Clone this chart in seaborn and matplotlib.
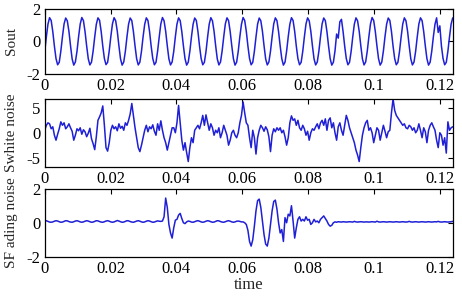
import numpy as np
import matplotlib
matplotlib.use('Agg')
import matplotlib.pyplot as plt
import seaborn as sns

# sampling rate of the three traces (Hz)
FS = 2040

# clean sine output
sout = [
    -0.62, 0.27, 1.05, 1.45, 1.28, 0.60, -0.29, -1.05, -1.43, -1.28,
    -0.59, 0.29, 1.07, 1.43, 1.26, 0.62, -0.27, -1.07, -1.45, -1.26,
    -0.61, 0.28, 1.06, 1.46, 1.27, 0.60, -0.28, -1.06, -1.44, -1.27,
    -0.60, 0.27, 1.05, 1.44, 1.29, 0.61, -0.29, -1.05, -1.42, -1.28,
    -0.58, 0.30, 1.07, 1.45, 1.26, 0.62, -0.27, -1.07, -1.45, -1.26,
    -0.61, 0.28, 1.06, 1.43, 1.27, 0.60, -0.28, -1.06, -1.44, -1.27,
    -0.60, 0.29, 1.05, 1.44, 1.28, 0.61, -0.29, -1.05, -1.43, -1.28,
    -0.59, 0.27, 1.07, 1.46, 1.26, 0.62, -0.27, -1.07, -1.44, -1.26,
    -0.61, 0.28, 1.06, 1.44, 1.27, 0.60, -0.28, -1.06, -1.45, -1.27,
    -0.60, 0.29, 1.05, 1.43, 1.28, 0.61, -0.29, -1.05, -1.43, -1.28,
    -0.62, 0.27, 1.06, 1.45, 1.26, 0.62, -0.27, -1.07, -1.44, -1.26,
    -0.59, 0.28, 1.07, 1.44, 1.27, 0.60, -0.28, -1.06, -1.45, -1.27,
    -0.60, 0.29, 1.05, 1.46, 1.28, 0.61, -0.29, -1.05, -1.43, -1.28,
    -0.61, 0.27, 1.06, 1.43, 1.26, 0.62, -0.27, -1.07, -1.44, -1.26,
    -0.60, 0.28, 1.07, 1.44, 1.27, 0.60, -0.28, -1.06, -1.45, -1.27,
    -0.59, 0.29, 1.05, 1.45, 1.28, 0.61, -0.29, -1.05, -1.43, -1.28,
    -0.61, 0.27, 1.06, 1.44, 1.26, 0.62, -0.27, -1.07, -1.44, -1.26,
    -0.60, 0.28, 1.07, 1.43, 1.27, 0.60, -0.28, -1.06, -1.45, -1.27,
    -0.58, 0.45, 0.20, 1.20, 1.35, 0.61, -0.29, -1.05, -1.43, -1.28,
    -0.61, 0.27, 1.06, 1.44, 1.26, 0.62, -0.27, -1.07, -1.44, -1.26,
    -0.60, 0.28, 1.07, 1.46, 1.27, 0.60, -0.28, -1.06, -1.45, -1.27,
    -0.59, 0.29, 1.05, 1.43, 1.28, 0.61, -0.29, -1.05, -1.43, -1.28,
    -0.61, 0.27, 1.06, 1.44, 1.26, 0.62, -0.27, -1.07, -1.44, -1.26,
    -0.60, 0.28, 1.07, 1.44, 1.27, 0.60, -0.28, -1.06, -1.45, -1.27,
    -0.59, 0.29, 1.05, 1.44, 0.55, 0.95, -0.29, -1.05, -1.43, -1.28,
    -0.60, 0.28, 1.06, 1.44,
]

# filtered white noise
swhite = [
    0.5, 1.5, 2.0, 1.8, 0.8, 1.2, -0.5, -1.5, -0.3, 0.8,
    2.2, 1.5, 2.0, 0.8, 1.2, 1.8, 1.0, 0.3, -1.5, -0.5,
    0.8, 0.4, 1.0, -0.3, 0.6, 0.2, -0.8, -0.1, 0.9, -1.2,
    -2.2, -3.4, -0.8, 2.5, 3.2, 4.0, 5.4, 1.5, -3.0, -3.7,
    -2.0, 0.5, 1.5, 0.8, 1.2, 0.4, 1.8, 0.9, 1.3, 0.5,
    2.0, 1.5, 2.5, 3.8, 5.9, 3.5, 1.0, -1.0, -3.0, -3.8,
    -2.5, -1.0, 0.5, 1.5, 0.2, 1.2, 0.8, 1.6, 0.3, -0.5,
    1.8, 0.5, 2.4, 0.5, -1.0, -2.0, -3.5, -2.0, -0.5, 1.0,
    1.0, 0.0, 2.0, 5.5, 2.0, -1.5, -3.5, -2.0, -4.0, -5.8,
    -3.0, -1.0, -2.0, 0.5, 1.0, 1.5, 0.8, 2.0, 3.5, 1.5,
    3.6, 2.0, 0.5, 1.8, 1.0, -0.5, 0.5, 0.0, 1.0, -1.0,
    0.0, 1.5, 0.5, -0.5, -2.5, -1.5, 0.0, 0.5, -0.5, -1.0,
    0.0, 2.0, 3.5, 6.2, 4.0, 2.0, 1.5, -1.0, -3.0, 0.5,
    -1.0, -4.3, -1.0, 0.5, 1.5, 1.0, 0.3, 1.2, 0.6, -0.8,
    -3.8, -0.5, 0.8, 0.2, 1.0, 0.5, 1.0, 0.0, 0.5, -0.8,
    -2.5, -1.0, 2.0, 3.4, 2.5, 2.8, 1.5, 2.5, 1.0, 0.5,
    1.5, 0.8, -0.5, 0.3, -1.5, 0.0, 0.8, 0.5, 1.2, 1.8,
    0.8, 2.0, 2.5, 1.5, 2.8, 0.5, 2.5, 3.0, 1.0, 2.0,
    0.0, -1.5, 1.2, 2.0, 0.5, -0.5, 1.5, 3.5, 2.5, 1.0,
    0.0, -1.0, -2.0, -3.5, -4.5, -5.8, -3.0, -0.5, 1.0, 2.0,
    2.5, 0.5, 1.0, 0.0, -2.0, -0.5, 1.0, 0.5, -1.5, 0.0,
    1.5, 0.3, -1.0, 0.2, 0.5, 4.0, 6.8, 4.5, 3.5, 3.0,
    2.5, 2.0, 1.5, 1.8, 1.0, 0.8, 1.5, 1.2, 0.5, 1.0,
    0.0, 0.5, 1.8, 0.5, -1.0, 1.0, 0.2, -2.0, 0.5, 1.5,
    2.0, 1.2, 0.5, -1.5, -3.0, 0.0, -0.5, -2.5, -1.0, -4.1,
    2.2, 0.5, 1.0, 1.2,
]

# fading noise
sfading = [
    0.10, 0.12, 0.08, 0.04, 0.03, 0.05, 0.09, 0.12, 0.10, 0.06,
    0.03, 0.04, 0.08, 0.12, 0.11, 0.07, 0.04, 0.03, 0.06, 0.10,
    0.12, 0.09, 0.05, 0.03, 0.05, 0.09, 0.12, 0.10, 0.06, 0.03,
    0.04, 0.08, 0.12, 0.11, 0.07, 0.04, 0.03, 0.06, 0.10, 0.12,
    0.09, 0.05, 0.03, 0.05, 0.09, 0.13, 0.10, 0.06, 0.03, 0.04,
    0.08, 0.12, 0.11, 0.07, 0.04, 0.03, 0.06, 0.10, 0.12, 0.09,
    0.05, 0.03, 0.05, 0.09, 0.12, 0.10, 0.06, 0.03, 0.04, 0.08,
    0.11, 0.09, 0.08, 0.10, 0.35, 1.45, 0.90, -0.10, -0.60, -0.90,
    -0.30, 0.15, 0.20, 0.45, 0.55, 0.25, 0.00, -0.05, 0.05, 0.10,
    0.08, 0.04, 0.03, 0.06, 0.10, 0.12, 0.09, 0.05, 0.03, 0.05,
    0.09, 0.12, 0.10, 0.06, 0.03, 0.04, 0.08, 0.12, 0.11, 0.07,
    0.04, 0.03, 0.06, 0.10, 0.12, 0.09, 0.05, 0.03, 0.05, 0.09,
    0.10, 0.08, 0.05, 0.05, 0.00, -0.10, -0.45, -1.10, -1.37, -1.00,
    -0.20, 0.70, 1.30, 1.39, 0.90, 0.10, -0.70, -1.25, -1.37, -0.90,
    -0.10, 0.70, 1.25, 1.33, 0.80, 0.00, -0.60, -0.40, -1.10, 0.30,
    0.00, 0.50, 0.40, 1.00, 0.10, -0.90, -0.30, 0.20, 0.35, 0.10,
    0.20, 0.10, 0.35, 0.15, 0.20, -0.10, 0.00, 0.20, 0.05, 0.10,
    0.00, 0.20, 0.30, 0.40, 0.25, 0.10, -0.10, -0.20, -0.15, 0.00,
    0.05, 0.03, 0.06, 0.05, 0.04, 0.06, 0.05, 0.04, 0.05, 0.06,
    0.05, 0.04, 0.08, 0.05, 0.04, 0.05, 0.06, 0.05, 0.04, 0.05,
    0.05, 0.04, 0.05, 0.06, 0.05, 0.04, 0.09, 0.05, 0.04, 0.05,
    0.06, 0.05, 0.04, 0.05, 0.06, 0.05, 0.04, 0.05, 0.06, 0.05,
    0.04, 0.05, 0.06, 0.05, 0.04, 0.05, 0.08, 0.05, 0.04, 0.05,
    0.06, 0.05, 0.04, 0.05, 0.06, 0.05, 0.04, 0.05, 0.06, 0.05,
    0.04, 0.05, 0.06, 0.05, 0.08, 0.05, 0.04, 0.05, 0.06, 0.05,
    0.04, 0.05, 0.06, 0.08,
]

ylabels = ['Sout', 'Swhite noise', 'SF ading noise']
xticks = [0, 0.02, 0.04, 0.06, 0.08, 0.1, 0.12]
xticklabels = ['0', '0.02', '0.04', '0.06', '0.08', '0.1', '0.12']

sns.set_style('white')
plt.rcParams['font.family'] = ['Liberation Serif', 'DejaVu Serif']
plt.rcParams['font.size'] = 12

fig = plt.figure(figsize=(4.62, 3.0), dpi=100)
# [left, bottom, width, height] in figure fraction
boxes = [
    [0.0968, 0.753, 0.883, 0.218],
    [0.0968, 0.445, 0.883, 0.225],
    [0.0968, 0.144, 0.883, 0.227],
]
series = [sout, swhite, sfading]
ylims = [(-2, 2), (-6.8, 6.8), (-2, 2)]
yticks = [[-2, 0, 2], [-5, 0, 5], [-2, 0, 2]]

for box, y, yl, lim, yt in zip(boxes, series, ylabels, ylims, yticks):
    ax = fig.add_axes(box)
    t = np.arange(len(y)) / FS
    sns.lineplot(x=t, y=y, ax=ax, color='#1f1fd6', lw=1.1, estimator=None)
    ax.set_xlim(0, 0.124)
    ax.set_ylim(*lim)
    ax.set_xticks(xticks)
    ax.set_xticklabels(xticklabels)
    ax.set_yticks(yt)
    ax.set_yticklabels([str(v) for v in yt])
    ax.tick_params(direction='in', length=3.5, width=0.8, top=True, right=True,
                   labelsize=12, pad=3, colors='black')
    for s in ax.spines.values():
        s.set_color('black')
        s.set_linewidth(0.9)
    ax.set_ylabel(yl, fontsize=11)
    ax.yaxis.set_label_coords(-0.066, 0.5)

ax.set_xlabel('time', fontsize=12, labelpad=0)

fig.savefig('out.png', dpi=100)
